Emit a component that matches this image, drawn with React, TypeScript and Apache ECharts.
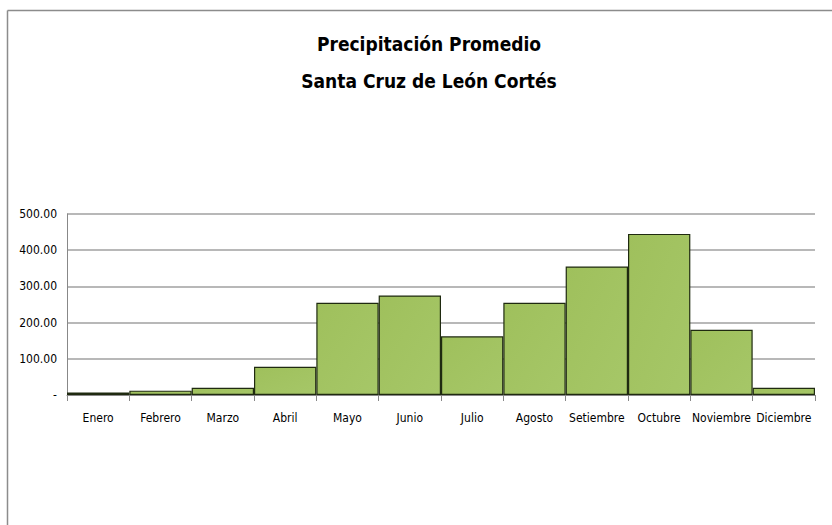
import React, { useEffect, useRef } from "react";
import * as echarts from "echarts";

const months = ["Enero", "Febrero", "Marzo", "Abril", "Mayo", "Junio", "Julio", "Agosto", "Setiembre", "Octubre", "Noviembre", "Diciembre"];
const precipitation = [7, 12, 20, 78, 255, 275, 162, 255, 355, 445, 180, 20];
const titleLines = ["Precipitación Promedio", "Santa Cruz de León Cortés"];

const FONT = "'Liberation Sans Narrow', 'DejaVu Sans Condensed', 'Roboto Condensed', 'Noto Sans', sans-serif";

export default function App() {
  const ref = useRef<HTMLDivElement>(null);
  useEffect(() => {
    document.body.style.margin = "0";
    const chart = echarts.init(ref.current!, null, { renderer: "svg" });
    chart.setOption({
      animation: false,
      backgroundColor: "#ffffff",
      title: {
        text: titleLines.join("\n"),
        left: 424,
        top: 20,
        textAlign: "center",
        textStyle: { fontFamily: FONT, fontSize: 19, fontWeight: "bold", color: "#000", lineHeight: 37 },
      },
      grid: { left: 67, right: 17, top: 214, bottom: 130 },
      xAxis: {
        type: "category",
        data: months,
        axisLine: { lineStyle: { color: "#888", width: 1 } },
        axisTick: { show: true, alignWithLabel: false, length: 6, lineStyle: { color: "#888" } },
        axisLabel: { fontFamily: FONT, fontSize: 12, color: "#000", margin: 17, interval: 0 },
      },
      yAxis: {
        type: "value",
        min: 0,
        max: 500,
        interval: 100,
        axisLine: { show: true, lineStyle: { color: "#888" } },
        axisTick: { show: false },
        axisLabel: {
          fontFamily: FONT,
          fontSize: 12,
          color: "#000",
          margin: 10,
          formatter: (v: number) => (v === 0 ? "-" : v.toFixed(2)),
        },
        splitLine: { lineStyle: { color: "#a0a0a0", width: 1.5 } },
      },
      series: [
        {
          type: "bar",
          data: precipitation,
          barCategoryGap: "0%",
          itemStyle: {
            color: {
              type: "linear", x: 0, y: 0, x2: 1, y2: 1,
              colorStops: [
                { offset: 0, color: "#9fc05c" },
                { offset: 1, color: "#a6c768" },
              ],
            },
            borderColor: "#1f2a10",
            borderWidth: 1.2,
          },
        },
      ],
      graphic: [
        { type: "line", shape: { x1: 7.5, y1: 10.5, x2: 832, y2: 10.5 }, style: { stroke: "#8c8c8c", lineWidth: 1.5 } },
        { type: "line", shape: { x1: 7.5, y1: 10.5, x2: 7.5, y2: 525 }, style: { stroke: "#8c8c8c", lineWidth: 1.5 } },
      ],
    });
    return () => chart.dispose();
  }, []);
  return <div ref={ref} style={{ width: 832, height: 525, position: "absolute", left: 0, top: 0 }} />;
}
